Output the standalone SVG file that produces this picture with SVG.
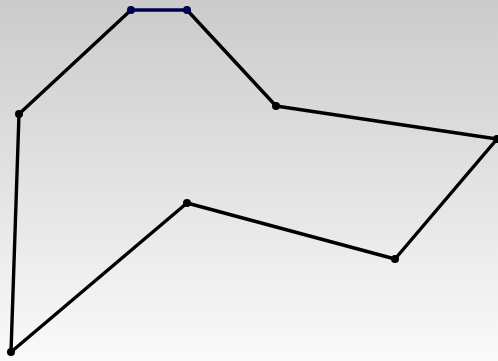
<svg xmlns="http://www.w3.org/2000/svg" width="498" height="361" viewBox="0 0 498 361">
<defs>
<linearGradient id="bg" x1="0" y1="0" x2="0" y2="1">
<stop offset="0" stop-color="#cbcbcb"/>
<stop offset="1" stop-color="#fafafa"/>
</linearGradient>
<style>
.e{stroke:#000;stroke-width:3.4;fill:none;stroke-linecap:round;stroke-linejoin:round}
.t{stroke:#000050;stroke-width:3.4;fill:none;stroke-linecap:round}
.p{fill:#000}
.q{fill:#000050}
</style>
</defs>
<rect width="498" height="361" fill="url(#bg)"/>
<g id="connectors">
<polyline class="e" points="187,10 276,106 497,139 395,259 187,203 11,352 19,114 131,10"/>
<line class="t" x1="131" y1="10" x2="187" y2="10"/>
</g>
<g id="n1"><circle class="q" cx="131" cy="10" r="4"/></g>
<g id="n2"><circle class="q" cx="187" cy="10" r="4"/></g>
<g id="n3"><circle class="p" cx="276" cy="106" r="4"/></g>
<g id="n4"><circle class="p" cx="497" cy="139" r="4"/></g>
<g id="n5"><circle class="p" cx="395" cy="259" r="4"/></g>
<g id="n6"><circle class="p" cx="187" cy="203" r="4"/></g>
<g id="n7"><circle class="p" cx="11" cy="352" r="4"/></g>
<g id="n8"><circle class="p" cx="19" cy="114" r="4"/></g>
</svg>
